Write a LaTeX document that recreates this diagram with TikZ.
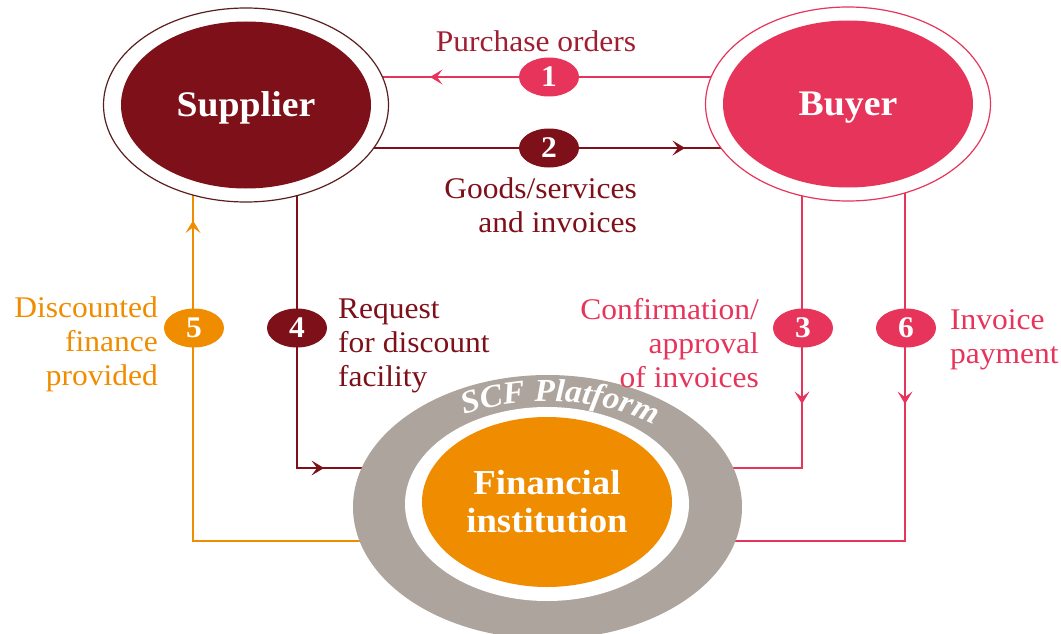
\documentclass[tikz,border=0pt]{standalone}
\usepackage{fontspec}
\setmainfont{Liberation Serif}[FakeStretch=1.05]
\usetikzlibrary{shapes.geometric,arrows.meta,decorations.markings,decorations.text,backgrounds,calc}
\definecolor{sdark}{RGB}{125,16,24}
\definecolor{spink}{RGB}{230,52,90}
\definecolor{sorange}{RGB}{240,140,0}
\definecolor{sgray}{RGB}{173,165,157}
\definecolor{sborder}{RGB}{90,30,30}
\definecolor{sporder}{RGB}{160,30,50}
\begin{document}
\begin{tikzpicture}[x=1pt,y=-1pt,
  outerell/.style={ellipse, line width=1.2pt, fill=white, minimum width=285pt, minimum height=194pt, inner sep=0pt},
  innerell/.style={ellipse, minimum width=250pt, minimum height=167pt, inner sep=0pt, text=white, text height=24pt, text depth=0pt, font=\bfseries\fontsize{36}{38}\selectfont},
  numell/.style={ellipse, minimum width=60pt, minimum height=39pt, inner sep=0pt, text=white, font=\bfseries\fontsize{30}{30}\selectfont},
  lbl/.style={font=\fontsize{30}{34}\selectfont, inner sep=0pt},
  flow/.style={line width=1.8pt},
  tipmark/.style={postaction={decorate}, decoration={markings, mark=at position #1 with {\fill (-3pt,0pt) -- (-8.5pt,7.5pt) -- (4pt,0pt) -- (-8.5pt,-7.5pt) -- cycle;}}},
]
\useasboundingbox (0,0) rectangle (1061,634);

% main actors
\node[outerell, draw=sborder] (supplierO) at (246,105) {};
\node[innerell, fill=sdark] (supplier) at (246,105) {Supplier};
\node[outerell, draw=spink] (buyerO) at (848,104) {};
\node[innerell, fill=spink] (buyer) at (848,104) {Buyer};

% platform
\node[ellipse, fill=sgray, minimum width=389pt, minimum height=264pt, inner sep=0pt] (platform) at (547.5,507) {};
\node[ellipse, fill=white, minimum width=284pt, minimum height=194pt, inner sep=0pt] (ring) at (547,504) {};
\node[ellipse, fill=sorange, minimum width=250pt, minimum height=170pt, inner sep=0pt, text=white, align=center, font=\bfseries\fontsize{35}{38}\selectfont] (fin) at (547,502) {Financial\\institution};
\path[decorate, decoration={text along path, text align=center, text color=white,
  text={|\bfseries\itshape\fontsize{32}{32}\selectfont|SCF Platform}}]
  ($(platform.center)+(125:168pt and 106pt)$) arc[start angle=125, end angle=45, x radius=168pt, y radius=106pt];

% number badges
\node[numell, fill=spink] (c1) at (549,77) {1};
\node[numell, fill=sdark] (c2) at (549,148) {2};
\node[numell, fill=spink] (c3) at (803,328) {3};
\node[numell, fill=sdark] (c4) at (297,328) {4};
\node[numell, fill=sorange] (c5) at (194,328) {5};
\node[numell, fill=spink] (c6) at (906,328) {6};

% corners
\coordinate (k4) at (297,468);
\coordinate (k5) at (193,541);
\coordinate (k3) at (802,468);
\coordinate (k6) at (905,541);

\begin{pgfonlayer}{background}
\draw[flow, spink, fill=spink, tipmark=414pt] (buyerO.center |- c1) -- (supplierO.center |- c1);
\draw[flow, sdark, fill=sdark, tipmark=435pt] (supplierO.center |- c2) -- (buyerO.center |- c2);
\draw[flow, sdark, line width=1.5pt, tipmark=386pt] (k4 |- supplierO.center) -- (k4) -- (platform.center |- k4);
\draw[flow, sorange, tipmark=671pt] (platform.center |- k5) -- (k5) -- (k5 |- supplierO.center);
\draw[flow, spink, tipmark=296pt] (k3 |- buyerO.center) -- (k3) -- (platform.center |- k3);
\draw[flow, spink, tipmark=296pt] (k6 |- buyerO.center) -- (k6) -- (platform.center |- k6);
\end{pgfonlayer}

% labels (base anchor = last line's baseline)
\node[lbl, text=sporder, anchor=base] (lpo) at (536,52) {Purchase orders};
\node[lbl, text=sdark, align=right, anchor=base east] (lgoods) at (637,232) {Goods/services\\and invoices};
\node[lbl, text=sorange, align=right, anchor=base east] (ldisc) at (158,385) {Discounted\\finance\\provided};
\node[lbl, text=sdark, align=left, anchor=base west] (lreq) at (338,386) {Request\\for discount\\facility};
\node[lbl, text=spink, align=right, anchor=base east] (lconf) at (759,387) {Confirmation/\\approval\\of invoices};
\node[lbl, text=spink, align=left, anchor=base west] (lpay) at (950,363) {Invoice\\payment};
\end{tikzpicture}
\end{document}
